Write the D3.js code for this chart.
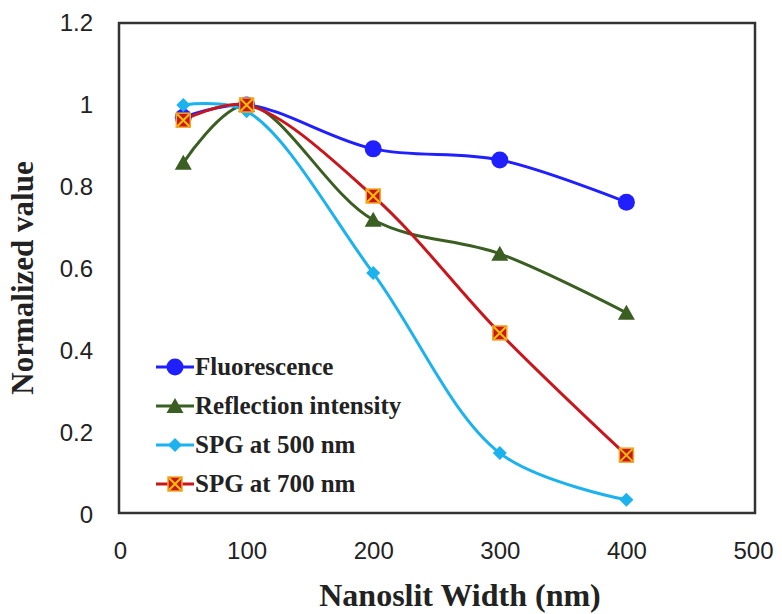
<!DOCTYPE html>
<html>
<head>
<meta charset="utf-8">
<script src="https://cdn.jsdelivr.net/npm/d3@7"></script>
<style>
  body { margin: 0; background: #fff; }
</style>
</head>
<body>
<div id="chart"></div>
<script>
// data
var widths = [50, 100, 200, 300, 400];
var fluorescence = [0.97, 1.0, 0.893, 0.866, 0.763];
var reflection = [0.859, 1.0, 0.72, 0.637, 0.493];
var spg500 = [1.0, 0.985, 0.59, 0.151, 0.037];
var spg700 = [0.963, 1.0, 0.778, 0.444, 0.146];
var xTicks = [0, 100, 200, 300, 400, 500];
var yTicks = [0, 0.2, 0.4, 0.6, 0.8, 1, 1.2];
var seriesNames = ["Fluorescence", "Reflection intensity", "SPG at 500 nm", "SPG at 700 nm"];

var W = 782, H = 614;
var plotLeft = 120, plotRight = 753, plotTop = 23, plotBottom = 515;

var svg = d3.select("#chart").append("svg")
  .attr("width", W).attr("height", H);

var x = d3.scaleLinear().domain([0, 500]).range([plotLeft, plotRight]);
var y = d3.scaleLinear().domain([0, 1.2]).range([plotBottom, plotTop]);

// frame
svg.append("rect")
  .attr("x", plotLeft - 1).attr("y", plotTop)
  .attr("width", plotRight - plotLeft + 3).attr("height", plotBottom - plotTop - 2)
  .attr("fill", "none")
  .attr("stroke", "#333")
  .attr("stroke-width", 2.5);

// axes (labels only, no tick marks)
var xAxis = svg.append("g")
  .attr("transform", "translate(0," + (plotBottom + 24) + ")")
  .call(d3.axisBottom(x).tickValues(xTicks).tickSize(0).tickFormat(d3.format("d")));
xAxis.select(".domain").remove();
xAxis.selectAll("text")
  .attr("font-family", "Liberation Sans, Arial, sans-serif")
  .attr("font-size", 24).attr("fill", "#222");

var yAxis = svg.append("g")
  .attr("transform", "translate(" + (plotLeft - 24) + ",0)")
  .call(d3.axisLeft(y).tickValues(yTicks).tickSize(0).tickFormat(function(d) { return String(+d.toFixed(1)); }));
yAxis.select(".domain").remove();
yAxis.selectAll("text")
  .attr("font-family", "Liberation Sans, Arial, sans-serif")
  .attr("font-size", 24).attr("fill", "#222");

// axis titles
svg.append("text")
  .attr("x", 460).attr("y", 606)
  .attr("text-anchor", "middle")
  .attr("font-family", "Liberation Serif, Times New Roman, serif")
  .attr("font-weight", "bold").attr("font-size", 32).attr("fill", "#222")
  .text("Nanoslit Width (nm)");

svg.append("text")
  .attr("transform", "translate(33,278) rotate(-90)")
  .attr("text-anchor", "middle")
  .attr("font-family", "Liberation Serif, Times New Roman, serif")
  .attr("font-weight", "bold").attr("font-size", 31).attr("fill", "#222")
  .text("Normalized value");

var series = [
  { name: seriesNames[0], values: fluorescence, color: "#1f1fff", marker: "circle" },
  { name: seriesNames[1], values: reflection, color: "#3b5e22", marker: "triangle" },
  { name: seriesNames[2], values: spg500, color: "#1cb2ee", marker: "diamond" },
  { name: seriesNames[3], values: spg700, color: "#c8161c", marker: "xsquare" }
];

var line = d3.line()
  .x(function(d) { return x(d[0]); })
  .y(function(d) { return y(d[1]); })
  .curve(d3.curveCatmullRom.alpha(0.5));

function drawMarker(g, type, cx, cy, color) {
  if (type === "circle") {
    g.append("circle").attr("cx", cx).attr("cy", cy).attr("r", 8.5).attr("fill", color);
  } else if (type === "triangle") {
    g.append("path")
      .attr("d", "M" + cx + "," + (cy - 8) + "L" + (cx + 8.5) + "," + (cy + 7) + "L" + (cx - 8.5) + "," + (cy + 7) + "Z")
      .attr("fill", color);
  } else if (type === "diamond") {
    g.append("path")
      .attr("d", "M" + cx + "," + (cy - 7) + "L" + (cx + 7) + "," + cy + "L" + cx + "," + (cy + 7) + "L" + (cx - 7) + "," + cy + "Z")
      .attr("fill", color);
  } else {
    var s = 7;
    g.append("rect").attr("x", cx - s).attr("y", cy - s)
      .attr("width", 2 * s).attr("height", 2 * s)
      .attr("fill", color).attr("stroke", "#f5a623").attr("stroke-width", 1.5);
    g.append("path")
      .attr("d", "M" + (cx - s + 1) + "," + (cy - s + 1) + "L" + (cx + s - 1) + "," + (cy + s - 1) +
                 "M" + (cx + s - 1) + "," + (cy - s + 1) + "L" + (cx - s + 1) + "," + (cy + s - 1))
      .attr("stroke", "#ffc000").attr("stroke-width", 2);
  }
}

// lines then markers
series.forEach(function(s) {
  var pts = widths.map(function(w, i) { return [w, s.values[i]]; });
  svg.append("path")
    .datum(pts)
    .attr("d", line)
    .attr("fill", "none")
    .attr("stroke", s.color)
    .attr("stroke-width", 3);
});
series.forEach(function(s) {
  var g = svg.append("g");
  widths.forEach(function(w, i) {
    drawMarker(g, s.marker, x(w), y(s.values[i]), s.color);
  });
});

// legend
var legend = svg.append("g");
series.forEach(function(s, i) {
  var ly = 367 + i * 39;
  legend.append("line")
    .attr("x1", 156).attr("x2", 194).attr("y1", ly).attr("y2", ly)
    .attr("stroke", s.color).attr("stroke-width", 3);
  drawMarker(legend, s.marker, 175, ly, s.color);
  legend.append("text")
    .attr("x", 195).attr("y", ly + 8)
    .attr("font-family", "Liberation Serif, Times New Roman, serif")
    .attr("font-weight", "bold").attr("font-size", 25).attr("fill", "#222")
    .text(s.name);
});
</script>
</body>
</html>
